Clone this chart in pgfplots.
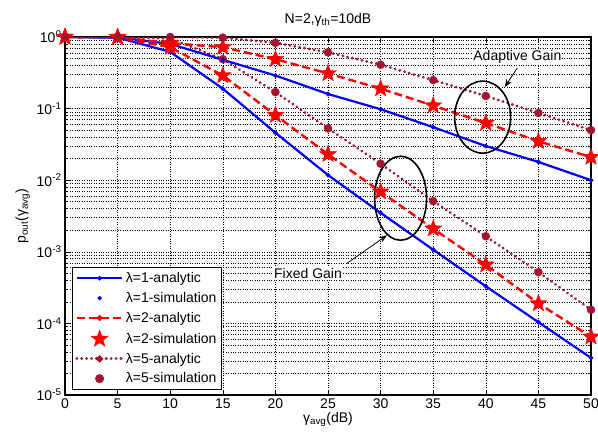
\documentclass[border=0pt]{standalone}
\usepackage{fontspec}
\setmainfont{Liberation Sans}
\usepackage{pgfplots}
\pgfplotsset{compat=1.18}
\usetikzlibrary{shapes.geometric,arrows.meta}
\definecolor{maroon}{rgb}{0.635,0.078,0.184}
\pgfdeclareplotmark{fstar}{%
  \pgfpathmoveto{\pgfpointpolar{90}{\pgfplotmarksize}}%
  \pgfpathlineto{\pgfpointpolar{126}{0.42\pgfplotmarksize}}%
  \pgfpathlineto{\pgfpointpolar{162}{\pgfplotmarksize}}%
  \pgfpathlineto{\pgfpointpolar{198}{0.42\pgfplotmarksize}}%
  \pgfpathlineto{\pgfpointpolar{234}{\pgfplotmarksize}}%
  \pgfpathlineto{\pgfpointpolar{270}{0.42\pgfplotmarksize}}%
  \pgfpathlineto{\pgfpointpolar{306}{\pgfplotmarksize}}%
  \pgfpathlineto{\pgfpointpolar{342}{0.42\pgfplotmarksize}}%
  \pgfpathlineto{\pgfpointpolar{18}{\pgfplotmarksize}}%
  \pgfpathlineto{\pgfpointpolar{54}{0.42\pgfplotmarksize}}%
  \pgfpathclose
  \pgfusepathqfillstroke
}
\newcommand{\fs}{\fontsize{14}{16}\selectfont}
\pgfplotsset{
  l1/.style={blue, line width=2.2pt, mark=*, mark size=1pt},
  s1/.style={blue, only marks, mark=*, mark size=1.6pt},
  l2/.style={red, line width=2.4pt, dash pattern=on 8pt off 4pt, mark=*, mark size=1.6pt, mark options={solid}},
  s2/.style={red, only marks, mark=fstar, mark size=9pt, mark options={fill=red, draw=red, line width=0.3pt}},
  l5/.style={maroon, line width=3pt, line cap=round, dash pattern=on 0.1pt off 4.8pt, mark=*, mark size=1.8pt, mark options={solid}},
  s5/.style={maroon, only marks, mark=*, mark size=4pt},
}
\begin{document}
\begin{tikzpicture}
\begin{axis}[
  scale only axis,
  width=526pt, height=358pt,
  xmin=0, xmax=50,
  ymode=log, ymin=1e-5, ymax=1,
  xtick={0,5,...,50},
  ytick={1e-5,1e-4,1e-3,1e-2,1e-1,1},
  yticklabels={10\textsuperscript{-5},10\textsuperscript{-4},10\textsuperscript{-3},10\textsuperscript{-2},10\textsuperscript{-1},10\textsuperscript{0}},
  /pgf/number format/assume math mode=true,
  tick label style={font=\fs},
  xlabel={γ\textsubscript{avg}(dB)},
  ylabel={p\textsubscript{out}(γ\textsubscript{avg})},
  label style={font=\fs},
  xlabel style={yshift=3pt},
  title={N=2,γ\textsubscript{th}=10dB},
  title style={font=\fs, yshift=1pt},
  grid=both,
  major grid style={black, dotted, line width=0.6pt},
  minor grid style={black, dotted, line width=0.6pt},
  minor x tick num=0,
  axis line style={black, line width=1.2pt},
  tick style={black, line width=0.6pt},
  tick align=inside,
  major tick length=5pt, minor tick length=3pt,
  legend style={at={(0.013,0.014)}, anchor=south west, draw=black, line width=1pt, fill=white,
    font=\fs, row sep=4.2pt, inner sep=3pt},
  legend cell align=left,
  legend image code/.code={\draw[mark repeat=2,mark phase=2,#1] plot coordinates {(0cm,0cm)(0.8cm,0cm)(1.6cm,0cm)};},
]
% fixed gain
\addplot[l1] coordinates {
(0,1)(5,0.98)(10,0.62)(15,0.19)(20,0.046)(25,0.0118)(30,0.0035)(35,1.07e-3)(40,3.3e-4)(45,1.04e-4)(50,3.3e-5)};
\addlegendentry{λ=1-analytic}
\addplot[s1] coordinates {
(0,1)(5,0.98)(10,0.62)(15,0.19)(20,0.046)(25,0.0118)(30,0.0035)(35,1.07e-3)(40,3.3e-4)(45,1.04e-4)(50,3.3e-5)};
\addlegendentry{λ=1-simulation}
\addplot[l2] coordinates {
(0,1)(5,0.99)(10,0.72)(15,0.29)(20,0.081)(25,0.023)(30,0.0069)(35,2.1e-3)(40,6.6e-4)(45,1.9e-4)(50,6.5e-5)};
\addlegendentry{λ=2-analytic}
\addplot[s2] coordinates {
(0,1)(5,0.99)(10,0.72)(15,0.29)(20,0.081)(25,0.023)(30,0.0069)(35,2.1e-3)(40,6.6e-4)(45,1.9e-4)(50,6.5e-5)};
\addlegendentry{λ=2-simulation}
\addplot[l5] coordinates {
(0,1)(5,1)(10,0.95)(15,0.49)(20,0.17)(25,0.053)(30,0.017)(35,0.0051)(40,1.65e-3)(45,5.2e-4)(50,1.55e-4)};
\addlegendentry{λ=5-analytic}
\addplot[s5] coordinates {
(0,1)(5,1)(10,0.95)(15,0.49)(20,0.17)(25,0.053)(30,0.017)(35,0.0051)(40,1.65e-3)(45,5.2e-4)(50,1.55e-4)};
\addlegendentry{λ=5-simulation}
% adaptive gain
\addplot[l1, forget plot] coordinates {
(0,1)(5,0.99)(10,0.8)(15,0.48)(20,0.29)(25,0.16)(30,0.098)(35,0.055)(40,0.030)(45,0.018)(50,0.010)};
\addplot[s1, forget plot] coordinates {
(0,1)(5,0.99)(10,0.8)(15,0.48)(20,0.29)(25,0.16)(30,0.098)(35,0.055)(40,0.030)(45,0.018)(50,0.010)};
\addplot[l2, forget plot] coordinates {
(0,1)(5,1)(10,0.82)(15,0.72)(20,0.49)(25,0.31)(30,0.19)(35,0.11)(40,0.063)(45,0.035)(50,0.021)};
\addplot[s2, forget plot] coordinates {
(0,1)(5,1)(10,0.82)(15,0.72)(20,0.49)(25,0.31)(30,0.19)(35,0.11)(40,0.063)(45,0.035)(50,0.021)};
\addplot[l5, forget plot] coordinates {
(0,1)(5,1)(10,1)(15,0.98)(20,0.83)(25,0.61)(30,0.41)(35,0.25)(40,0.15)(45,0.087)(50,0.050)};
\addplot[s5, forget plot] coordinates {
(0,1)(5,1)(10,1)(15,0.98)(20,0.83)(25,0.61)(30,0.41)(35,0.25)(40,0.15)(45,0.087)(50,0.050)};
% annotations
\node[draw=black, line width=1.6pt, ellipse, minimum width=56pt, minimum height=72pt, inner sep=0pt] at (axis cs:39.7,0.076) {};
\node[draw=black, line width=1.6pt, ellipse, minimum width=52pt, minimum height=84pt, inner sep=0pt] at (axis cs:31.9,0.0056) {};
\node[fill=white, inner sep=1pt, font=\fs] at (axis cs:43.0,0.53) {Adaptive Gain};
\draw[-{Stealth[length=8pt,width=6pt]}, line width=0.8pt] (axis cs:43.0,0.37) -- (axis cs:41.8,0.20);
\node[fill=white, inner sep=1pt, font=\fs] at (axis cs:23.1,0.0005) {Fixed Gain};
\draw[-{Stealth[length=8pt,width=6pt]}, line width=0.8pt] (axis cs:26.8,0.00069) -- (axis cs:30.6,0.0017);
\end{axis}
\pgfresetboundingbox
\path ([xshift=-65pt,yshift=-50pt]current axis.south west) rectangle ([xshift=7pt,yshift=37pt]current axis.north east);
\end{tikzpicture}
\end{document}
